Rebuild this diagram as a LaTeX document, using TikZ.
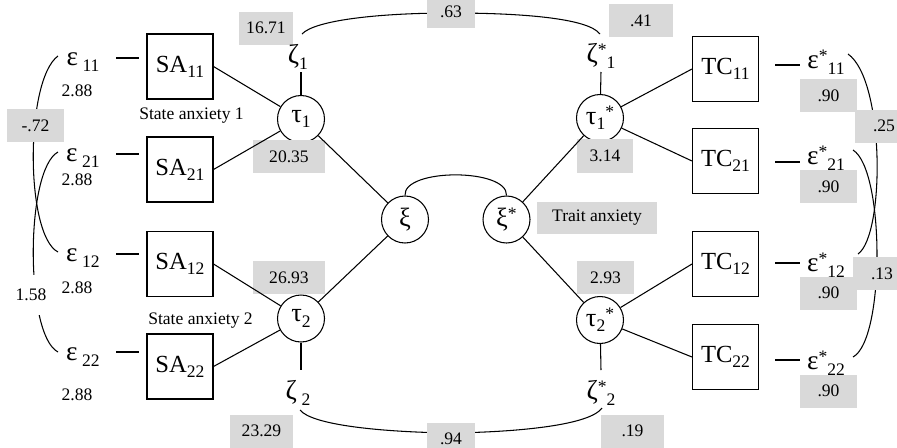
\documentclass[tikz,border=0pt]{standalone}
\usepackage{fontspec}
\setmainfont{Liberation Serif}
\newcommand{\Sb}[1]{\raisebox{-0.45ex}{\fontsize{10}{10}\selectfont #1}}
\newcommand{\Sp}[1]{\raisebox{0.55ex}{\fontsize{10}{10}\selectfont #1}}
\begin{document}
\begin{tikzpicture}[x=0.02cm,y=-0.02cm,line width=0.6pt,
  obs/.style={draw,minimum width=1.32cm,minimum height=1.3cm,inner sep=0pt,font=\fontsize{14}{14}\selectfont},
  lat/.style={draw,circle,minimum size=0.94cm,inner sep=0pt,font=\fontsize{15}{15}\selectfont},
  gbox/.style={fill=gray!30,inner sep=0pt,minimum height=0.66cm,font=\fontsize{10}{12}\selectfont},
  num/.style={inner sep=0pt,font=\fontsize{10}{12}\selectfont},
  gk/.style={inner sep=0pt,font=\fontsize{15.5}{15.5}\selectfont}]
\useasboundingbox (0,0) rectangle (897,447);

% nodes
\node[obs] (SA11) at (180,66.5) {SA\Sb{11}};
\node[obs] (SA21) at (180,169.5) {SA\Sb{21}};
\node[obs] (SA12) at (180,264) {SA\Sb{12}};
\node[obs] (SA22) at (180,366.5) {SA\Sb{22}};
\node[obs] (TC11) at (725.5,69) {TC\Sb{11}};
\node[obs] (TC21) at (725.5,161) {TC\Sb{21}};
\node[obs] (TC12) at (725.5,264) {TC\Sb{12}};
\node[obs] (TC22) at (725.5,357) {TC\Sb{22}};
\node[lat] (tau1) at (301,119) {τ\Sb{1}};
\node[lat] (tau2) at (301,318.5) {τ\Sb{2}};
\node[lat] (xi) at (405,219.5) {ξ};
\node[lat] (xis) at (506.5,219.5) {ξ\Sp{*}};
\node[lat] (tau1s) at (600,118) {τ\Sb{1}\Sp{*}};
\node[lat] (tau2s) at (600,320) {τ\Sb{2}\Sp{*}};

% curved correlations
\coordinate (zt1) at (302,34);
\coordinate (zt2) at (600,34);
\coordinate (ztm) at (451,13);
\draw (zt1) .. controls (315,20) and (380,13) .. (ztm) .. controls (520,13) and (588,18) .. (zt2);
\coordinate (zb1) at (300,410);
\coordinate (zb2) at (602,408);
\coordinate (zbm) at (451,433);
\draw (zb1) .. controls (312,425) and (380,432) .. (zbm) .. controls (520,432) and (590,425) .. (zb2);
\draw (xi.north) .. controls (403,168) and (508,168) .. (xis.north);
\coordinate (cA1) at (58,56); \coordinate (cA2) at (58,252);
\draw (cA1) .. controls (25,80) and (25,235) .. (cA2);
\coordinate (cB1) at (58,152); \coordinate (cB2) at (58,352);
\draw (cB1) .. controls (25,170) and (25,335) .. (cB2);
\coordinate (cC1) at (848,54); \coordinate (cC2) at (858,254);
\draw (cC1) .. controls (885,80) and (885,235) .. (cC2);
\coordinate (cD1) at (853,150); \coordinate (cD2) at (853,357);
\draw (cD1) .. controls (885,170) and (885,340) .. (cD2);

% grey value boxes
\node[gbox,minimum width=1.08cm] (g1671) at (266,28) {16.71};
\node[gbox,minimum width=1.44cm] (g2035) at (289,156.5) {20.35};
\node[gbox,minimum width=1.44cm] (g2693) at (289,277.5) {26.93};
\node[gbox,minimum width=1.26cm] (g2329) at (261.5,431) {23.29};
\node[gbox,minimum width=0.96cm,minimum height=0.64cm] (g63) at (451,12) {.63};
\node[gbox,minimum width=0.96cm,minimum height=0.64cm] (g94) at (451,439) {.94};
\node[gbox,minimum width=1.28cm] (g41) at (641,20.5) {.41};
\node[gbox,minimum width=1.12cm,minimum height=0.68cm] (g314) at (605,156) {3.14};
\node[gbox,minimum width=2.4cm,minimum height=0.64cm] (gtrait) at (597,218) {Trait anxiety};
\node[gbox,minimum width=1.14cm] (g293) at (605.5,277.5) {2.93};
\node[gbox,minimum width=1.26cm] (g19) at (632.5,431) {.19};
\node[gbox,minimum width=1.14cm] (g90a) at (828.5,95.5) {.90};
\node[gbox,minimum width=1.14cm] (g90b) at (828.5,186.5) {.90};
\node[gbox,minimum width=1.14cm] (g90c) at (828.5,293) {.90};
\node[gbox,minimum width=1.14cm] (g90d) at (828.5,391) {.90};
\node[gbox,minimum width=1.16cm] (g25) at (884,126) {.25};
\node[gbox,minimum width=1.16cm] (g13) at (882,273.5) {.13};
\node[gbox,minimum width=1.14cm] (g72) at (35.5,125.5) {-.72};

% plain numbers and labels
\node[num,fill=white,minimum height=0.8cm,minimum width=0.7cm] (n158) at (31,295) {1.58};
\node[num] (n288a) at (77,91) {2.88};
\node[num] (n288b) at (77,180) {2.88};
\node[num] (n288c) at (77,288) {2.88};
\node[num] (n288d) at (77,395) {2.88};
\node[num] (lsa1) at (191.5,116) {State anxiety 1};
\node[num] (lsa2) at (200.5,321) {State anxiety 2};

% error terms
\node[gk] (e11) at (83,62) {ε\,\Sb{11}};
\node[gk] (e21) at (83,158) {ε\,\Sb{21}};
\node[gk] (e12) at (83,258) {ε\,\Sb{12}};
\node[gk] (e22) at (83,357) {ε\,\Sb{22}};
\node[gk] (es11) at (826,62) {ε\Sp{*}\Sb{11}};
\node[gk] (es21) at (826,158) {ε\Sp{*}\Sb{21}};
\node[gk] (es12) at (826,265) {ε\Sp{*}\Sb{12}};
\node[gk] (es22) at (826,363) {ε\Sp{*}\Sb{22}};

% disturbances
\node[gk] (zeta1) at (298,57) {ζ\Sb{1}};
\node[gk] (zeta2) at (298,393) {ζ\,\Sb{2}};
\node[gk] (zeta1s) at (601,56) {ζ\Sp{*}\Sb{1}};
\node[gk] (zeta2s) at (601,393) {ζ\Sp{*}\Sb{2}};
\coordinate (z1) at (301,72);
\coordinate (z2) at (301,370);
\coordinate (z1s) at (601,72);
\coordinate (z2s) at (601,370);
\draw (tau1) -- (z1);
\draw (tau2) -- (z2);
\draw (tau1s) -- (z1s);
\draw (tau2s) -- (z2s);

% dashes from errors to indicators
\coordinate (d11a) at (116,58); \coordinate (d11b) at (139,58);
\coordinate (d21a) at (116,154); \coordinate (d21b) at (139,154);
\coordinate (d12a) at (116,254); \coordinate (d12b) at (139,254);
\coordinate (d22a) at (116,352); \coordinate (d22b) at (139,352);
\draw (d11a) -- (d11b); \draw (d21a) -- (d21b);
\draw (d12a) -- (d12b); \draw (d22a) -- (d22b);
\coordinate (r11a) at (775,65); \coordinate (r11b) at (800,65);
\coordinate (r21a) at (775,162); \coordinate (r21b) at (800,162);
\coordinate (r12a) at (775,263); \coordinate (r12b) at (800,263);
\coordinate (r22a) at (775,360); \coordinate (r22b) at (800,360);
\draw (r11a) -- (r11b); \draw (r21a) -- (r21b);
\draw (r12a) -- (r12b); \draw (r22a) -- (r22b);

% loadings
\draw (SA11.east) -- (tau1);
\draw (SA21.east) -- (tau1);
\draw (SA12.east) -- (tau2);
\draw (SA22.east) -- (tau2);
\draw (tau1) -- (xi);
\draw (tau2) -- (xi);
\draw (xis) -- (tau1s);
\draw (xis) -- (tau2s);
\draw (tau1s) -- (TC11.west);
\draw (tau1s) -- (TC21.west);
\draw (tau2s) -- (TC12.west);
\draw (tau2s) -- (TC22.west);
\end{tikzpicture}
\end{document}
